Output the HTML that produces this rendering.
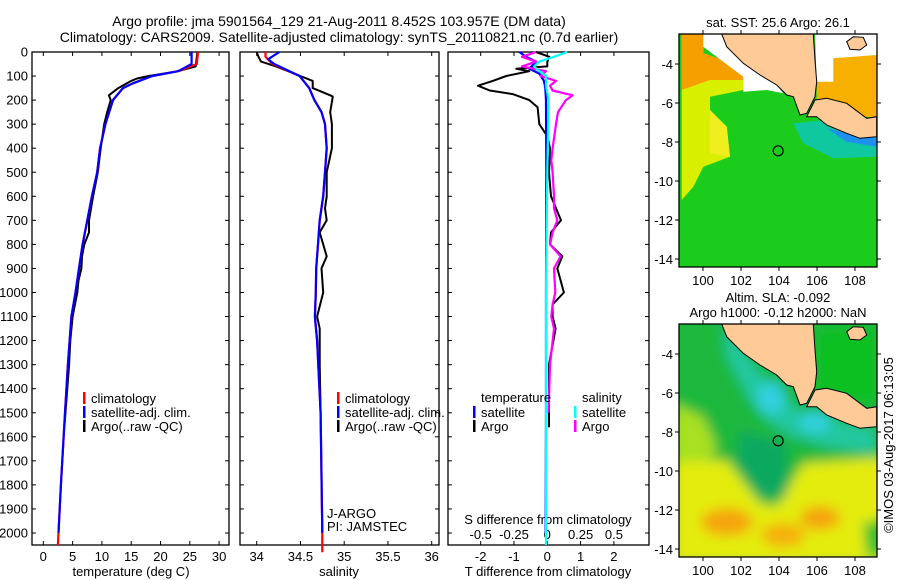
<!DOCTYPE html>
<html><head><meta charset="utf-8"><style>
html,body{margin:0;padding:0;background:#fff}
svg{display:block;font-family:"Liberation Sans",sans-serif}
text{fill:#000}
</style></head><body>
<svg id="fig" width="900" height="580" viewBox="0 0 900 580" xmlns="http://www.w3.org/2000/svg">
<defs>
<filter id="blur" x="-10%" y="-10%" width="120%" height="120%"><feGaussianBlur stdDeviation="6"/></filter>
<filter id="blur2"><feGaussianBlur stdDeviation="3"/></filter>
<clipPath id="mapclip1"><rect x="679" y="34" width="198" height="233"/></clipPath>
<clipPath id="mapclip2"><rect x="679" y="324" width="198" height="233"/></clipPath>
</defs>
<text x="339" y="26" font-size="14" text-anchor="middle">Argo profile: jma 5901564_129 21-Aug-2011 8.452S 103.957E (DM data)</text>
<text x="339" y="42" font-size="14" text-anchor="middle">Climatology: CARS2009. Satellite-adjusted climatology: synTS_20110821.nc (0.7d earlier)</text>
<g id="panels"></g>
<g id="maps"></g>
<text transform="translate(893,445) rotate(-90)" font-size="13" text-anchor="middle">©IMOS 03-Aug-2017 06:13:05</text>
</svg>
<script>
// ---------- data ----------
const tempClimDepth = [0,50,80,100,130,150,200,300,400,500,600,700,800,900,1000,1100,1300,1500,1800,2000,2050];
const tempClim      = [26.4,26.2,23.0,18.6,15.3,13.6,11.9,10.6,9.7,9.2,8.3,7.5,6.7,6.1,5.5,4.8,4.2,3.7,3.0,2.6,2.5];
const tempSatDepth  = [0,50,80,100,130,150,200,300,400,500,600,700,800,900,1000,1100,1300,1500,1800,2000];
const tempSat       = [25.3,25.3,23.0,18.6,15.3,13.6,11.9,10.6,9.7,9.2,8.3,7.5,6.7,6.1,5.5,4.8,4.2,3.7,3.0,2.6];
const tempArgoDepth = [0,60,80,100,110,120,150,180,200,250,300,400,500,600,700,750,800,850,900,950,1000,1100,1200,1300,1400,1560];
const tempArgo      = [26.3,26.0,23.0,18.0,16.0,15.0,12.8,11.2,11.5,10.9,10.4,9.8,9.3,8.5,7.8,7.8,7.0,6.6,6.5,6.0,5.8,5.0,4.6,4.4,4.1,3.6];

const salClimDepth = [0,20,50,100,150,200,250,300,400,500,600,700,800,900,1000,1100,1200,1500,2000,2080];
const salClim      = [34.10,34.10,34.18,34.49,34.60,34.66,34.74,34.78,34.80,34.78,34.76,34.72,34.70,34.68,34.675,34.665,34.69,34.73,34.75,34.75];
const salSatDepth  = [0,30,50,100,150,200,250,300,400,500,600,700,800,900,1000,1100,1200,1500,2000];
const salSat       = [34.26,34.13,34.20,34.49,34.60,34.66,34.74,34.78,34.80,34.78,34.76,34.72,34.70,34.68,34.675,34.665,34.69,34.73,34.75];
const salArgoDepth = [0,20,40,60,100,120,150,180,185,250,300,400,450,500,600,650,700,750,850,900,1000,1100,1150,1300,1500];
const salArgo      = [34.00,34.02,34.05,34.22,34.50,34.64,34.64,34.84,34.87,34.84,34.86,34.86,34.83,34.80,34.80,34.78,34.80,34.72,34.80,34.74,34.76,34.69,34.72,34.72,34.73];

const dTArgoDepth = [0,20,40,60,70,80,100,120,140,160,175,200,230,300,350,400,500,600,700,750,800,850,900,1000,1050,1100,1150,1300,1560];
const dTArgo      = [-0.34,0.06,0.0,0.0,-0.93,-0.54,-1.23,-1.64,-2.08,-1.73,-1.04,-0.54,-0.29,-0.24,0.0,0.08,0.05,0.11,0.41,0.11,0.08,0.45,0.30,0.50,0.16,0.16,0.25,0.05,0.05];
const dSArgoDepth = [0,20,40,60,80,100,120,140,160,180,200,250,300,400,450,500,600,650,700,750,800,850,900,1000,1050,1100,1150,1300,1500];
const dSArgo      = [-0.084,-0.19,-0.084,-0.19,-0.01,-0.05,0.065,0.02,0.04,0.19,0.14,0.08,0.065,0.04,0.03,0.04,0.05,0.05,0.075,0.04,0.02,0.10,0.05,0.06,0.04,0.03,0.05,0.02,0.01];
const dTSatDepth  = [0,20,40,70,90,120,150,200,500,1000,1500,2000];
const dTSat       = [-0.84,-0.63,-0.34,-0.54,-0.24,-0.10,-0.06,-0.04,-0.03,-0.04,-0.04,-0.05];
const dSSatDepth  = [0,20,40,60,80,100,140,200,500,1000,1500,2050];
const dSSat       = [0.15,0.05,-0.06,-0.10,-0.06,-0.01,-0.01,0.01,0.0,-0.01,-0.01,-0.01];

const depthTicks = [0,100,200,300,400,500,600,700,800,900,1000,1100,1200,1300,1400,1500,1600,1700,1800,1900,2000];
const tempTicks = [0,5,10,15,20,25,30];
const salTicks = [34,34.5,35,35.5,36];
const dTTicks = [-2,-1,0,1,2];
const dSTicks = [-0.5,-0.25,0,0.25,0.5];
const dSTickLabels = ["-0.5","-0.25","0","0.25","0.5"];
const mapLonTicks = [100,102,104,106,108];
const mapLatTicks = [-4,-6,-8,-10,-12,-14];
const argoLon = 103.957, argoLat = -8.452;

// ---------- helpers ----------
const NS = "http://www.w3.org/2000/svg";
function mk(tag, attrs, parent){const e=document.createElementNS(NS,tag);for(const k in attrs)e.setAttribute(k,attrs[k]);parent.appendChild(e);return e;}
const yD = d => 52 + 0.2405*d;
const PT = 52, PB = 545;
const panels = document.getElementById('panels');

function panel(name,x0,x1,xf,ticks,labels,labelY){
  const g = mk('g',{},panels);
  
  
  const fr = mk('rect',{x:x0,y:PT,width:x1-x0,height:PB-PT,fill:'none',stroke:'#000','stroke-width':1.3},g);
  
  
  depthTicks.forEach(d=>{
    mk('line',{x1:x0,x2:x0+4,y1:yD(d),y2:yD(d),stroke:'#000'},g);
    mk('line',{x1:x1-4,x2:x1,y1:yD(d),y2:yD(d),stroke:'#000'},g);
  });
  ticks.forEach((t,i)=>{
    const x = xf(t);
    mk('line',{x1:x,x2:x,y1:PT,y2:PT+4,stroke:'#000'},g);
    mk('line',{x1:x,x2:x,y1:PB-4,y2:PB,stroke:'#000'},g);
    const tx = mk('text',{x:x,y:labelY,'font-size':13,'text-anchor':'middle'},g);
    tx.textContent = labels ? labels[i] : String(t);
    
    
  });
  return g;
}
function line(g,xf,depths,vals,color,w,name){
  const pts = depths.map((d,i)=>xf(vals[i]).toFixed(1)+','+yD(d).toFixed(1)).join(' ');
  const p = mk('polyline',{points:pts,fill:'none',stroke:color,'stroke-width':w,'stroke-linejoin':'round'},g);
  
  
}
function txt(g,x,y,s,name,size,anchor){
  const t = mk('text',{x:x,y:y,'font-size':size||13,'text-anchor':anchor||'start'},g);
  t.textContent = s;
  
  
  return t;
}
function legendMark(g,x,y,color,name){
  const r = mk('rect',{x:x,y:y-6,width:2.5,height:12,fill:color},g);
  
  
}

// ---------- panel 1: temperature ----------
const xT = t => 43.3 + 5.86*t;
const g1 = panel('temperature-panel',32,229,xT,tempTicks,null,561);
depthTicks.forEach(d=>{ txt(g1,28,yD(d)+4.5,String(d),'depth-tick-label',13,'end'); });
line(g1,xT,tempArgoDepth,tempArgo,'#000',2,'argo-temperature-line');
line(g1,xT,tempClimDepth,tempClim,'#f00',2.2,'climatology-temperature-line');
line(g1,xT,tempSatDepth,tempSat,'#00f',2.2,'satellite-temperature-line');
txt(g1,131,576,'temperature (deg C)','temperature-axis-title',13,'middle');
legendMark(g1,83,398,'#f00','legend-climatology-marker'); txt(g1,91,403,'climatology','legend-climatology');
legendMark(g1,83,412,'#00f','legend-satellite-marker'); txt(g1,91,417,'satellite-adj. clim.','legend-satellite');
legendMark(g1,83,426,'#000','legend-argo-marker'); txt(g1,91,431,'Argo(..raw -QC)','legend-argo');

// ---------- panel 2: salinity ----------
const xS = s => 256.7 + 87.5*(s-34);
const g2 = panel('salinity-panel',240,439,xS,salTicks,null,561);
line(g2,xS,salArgoDepth,salArgo,'#000',2,'argo-salinity-line');
line(g2,xS,salClimDepth,salClim,'#f00',2.2,'climatology-salinity-line');
line(g2,xS,salSatDepth,salSat,'#00f',2.2,'satellite-salinity-line');
txt(g2,339,576,'salinity','salinity-axis-title',13,'middle');
legendMark(g2,337,398,'#f00','legend-climatology-marker'); txt(g2,345,403,'climatology','legend-climatology');
legendMark(g2,337,412,'#00f','legend-satellite-marker'); txt(g2,345,417,'satellite-adj. clim.','legend-satellite');
legendMark(g2,337,426,'#000','legend-argo-marker'); txt(g2,345,431,'Argo(..raw -QC)','legend-argo');
txt(g2,327,518,'J-ARGO','float-program-label');
txt(g2,327,531,'PI: JAMSTEC','principal-investigator-label');

// ---------- panel 3: differences ----------
const xdT = t => 547.3 + 33.3*t;
const xdS = s => 547.3 + 133.2*s;
const g3 = panel('difference-panel',448,649,xdT,dTTicks,null,561);
dSTicks.forEach((s,i)=>{ txt(g3,xdS(s),539,dSTickLabels[i],'s-diff-tick-label',13,'middle'); });
txt(g3,548,524,'S difference from climatology','s-difference-axis-title',13,'middle');
line(g3,xdT,dTArgoDepth,dTArgo,'#000',2,'argo-temperature-difference-line');
line(g3,xdT,dTSatDepth,dTSat,'#00f',2.2,'satellite-temperature-difference-line');
line(g3,xdS,dSArgoDepth,dSArgo,'#f0f',2.2,'argo-salinity-difference-line');
line(g3,xdS,dSSatDepth,dSSat,'#0ff',2.2,'satellite-salinity-difference-line');
txt(g3,548,576,'T difference from climatology','t-difference-axis-title',13,'middle');
txt(g3,481,402,'temperature','legend-temperature-heading');
txt(g3,582,402,'salinity','legend-salinity-heading');
legendMark(g3,473,412,'#00f','legend-t-satellite-marker'); txt(g3,481,417,'satellite','legend-t-satellite');
legendMark(g3,473,426,'#000','legend-t-argo-marker'); txt(g3,481,431,'Argo','legend-t-argo');
legendMark(g3,574,412,'#0ff','legend-s-satellite-marker'); txt(g3,582,417,'satellite','legend-s-satellite');
legendMark(g3,574,426,'#f0f','legend-s-argo-marker'); txt(g3,582,431,'Argo','legend-s-argo');

// ---------- maps ----------
const maps = document.getElementById('maps');
function P(pts,oy){return pts.map(p=>(660+p[0]/3).toFixed(1)+','+(oy+p[1]/3).toFixed(1)).join(' ');}
const sumatra = [[185,102],[460,102],[465,180],[470,245],[465,290],[440,340],[420,345],[400,290],[380,285],[350,255],[300,225],[250,190],[200,140]];
const java = [[465,300],[500,295],[560,310],[620,355],[650,350],[650,410],[600,415],[560,400],[500,375],[470,350],[440,350]];
const isl = [[560,125],[580,110],[610,112],[620,135],[600,150],[570,148]];
function mapFrame(g,oy,clipId,name){
  const lonX = lon => 703 + 19*(lon-100);
  const latY = lat => oy + 30 + 19.5*(-4-lat);
  mk('rect',{x:679,y:oy,width:198,height:233,fill:'none',stroke:'#000','stroke-width':1.3},g);
  mapLonTicks.forEach(l=>{
    mk('line',{x1:lonX(l),x2:lonX(l),y1:oy,y2:oy-4,stroke:'#000'},g);
    mk('line',{x1:lonX(l),x2:lonX(l),y1:oy+233,y2:oy+237,stroke:'#000'},g);
    txt(g,lonX(l),oy+251,String(l),name+'-lon-label',13,'middle');
  });
  mapLatTicks.forEach(l=>{
    mk('line',{x1:679,x2:675,y1:latY(l),y2:latY(l),stroke:'#000'},g);
    mk('line',{x1:877,x2:881,y1:latY(l),y2:latY(l),stroke:'#000'},g);
    txt(g,673,latY(l)+5,String(l),name+'-lat-label',13,'end');
  });
  const c = mk('circle',{cx:lonX(argoLon),cy:latY(argoLat),r:5,fill:'none',stroke:'#000','stroke-width':1.2},g);
  
  
}
function land(g,oy){
  mk('polygon',{points:P(sumatra,oy),fill:'#fdca98',stroke:'#000','stroke-width':1},g);
  mk('polygon',{points:P(java,oy),fill:'#fdca98',stroke:'#000','stroke-width':1},g);
  mk('polygon',{points:P(isl,oy),fill:'#fdca98',stroke:'#000','stroke-width':1},g);
}
// SST map
const m1 = mk('g',{'clip-path':'url(#mapclip1)'},maps);


mk('rect',{x:679,y:34,width:198,height:233,fill:'#1ccc1c'},m1);
mk('polygon',{points:P([[65,102],[130,102],[130,160],[250,200],[250,270],[150,290],[150,330],[200,380],[210,470],[130,500],[100,560],[65,600]],0),fill:'#d8f000'},m1);
mk('polygon',{points:P([[150,330],[200,380],[210,470],[150,460]],0),fill:'#f0ee20'},m1);
mk('polygon',{points:P([[65,102],[130,102],[130,160],[250,200],[250,240],[150,240],[65,270]],0),fill:'#f5a000'},m1);
mk('polygon',{points:P([[470,175],[650,165],[650,355],[470,330]],0),fill:'#f8b000'},m1);
mk('polygon',{points:P([[400,370],[500,360],[560,405],[650,410],[650,470],[520,475],[430,430]],0),fill:'#10c8a0'},m1);
mk('polygon',{points:P([[500,385],[560,400],[650,410],[650,440],[560,425]],0),fill:'#2090f0'},m1);
mk('polygon',{points:P([[130,102],[190,102],[250,190],[300,225],[350,255],[370,280],[320,270],[250,275],[250,230],[130,140]],0),fill:'#fff'},m1);
mk('polygon',{points:P([[465,102],[650,102],[650,165],[520,175],[520,245],[470,245]],0),fill:'#fff'},m1);
land(m1,0);
const mf1 = mk('g',{},maps);
mapFrame(mf1,34,'mapclip1','sst-map');
txt(maps,778,27,'sat. SST: 25.6  Argo: 26.1','sst-map-title',13,'middle');
// SLA map
const m2 = mk('g',{'clip-path':'url(#mapclip2)'},maps);


const b2 = mk('g',{filter:'url(#blur)'},m2);
mk('rect',{x:660,y:310,width:240,height:260,fill:'#1cb83c'},b2);
mk('polygon',{points:P([[40,340],[130,380],[170,470],[140,540],[40,540]],290),fill:'#a8e020'},b2);
mk('polygon',{points:P([[40,520],[200,510],[300,640],[350,650],[430,520],[700,500],[700,820],[40,820]],290),fill:'#e4ec10'},b2);
mk('ellipse',{cx:727,cy:522,rx:26,ry:14,fill:'#f5a410'},b2);
mk('ellipse',{cx:820,cy:518,rx:20,ry:12,fill:'#f5a410'},b2);
mk('ellipse',{cx:783,cy:535,rx:22,ry:12,fill:'#f5b010'},b2);
mk('polygon',{points:P([[610,700],[700,680],[700,800],[620,800]],290),fill:'#30c030'},b2);
mk('polygon',{points:P([[190,102],[300,250],[380,330],[430,370],[650,420],[650,490],[500,470],[400,440],[330,400],[270,330],[200,200]],290),fill:'#20c8a0'},b2);
mk('ellipse',{cx:771,cy:398,rx:14,ry:16,fill:'#30d0e0'},b2);
mk('ellipse',{cx:815,cy:422,rx:16,ry:10,fill:'#30d0e0'},b2);
mk('polygon',{points:P([[470,120],[650,110],[650,340],[470,320]],290),fill:'#10c020'},b2);
mk('polygon',{points:P([[240,420],[380,460],[380,620],[300,620],[230,520]],290),fill:'#10a860'},b2);
land(m2,290);
const mf2 = mk('g',{},maps);
mapFrame(mf2,324,'mapclip2','sla-map');
txt(maps,778,302,'Altim. SLA: -0.092','sla-map-title',13,'middle');
txt(maps,778,317,'Argo h1000: -0.12 h2000: NaN','sla-map-subtitle',13,'middle');
</script>
</body></html>
